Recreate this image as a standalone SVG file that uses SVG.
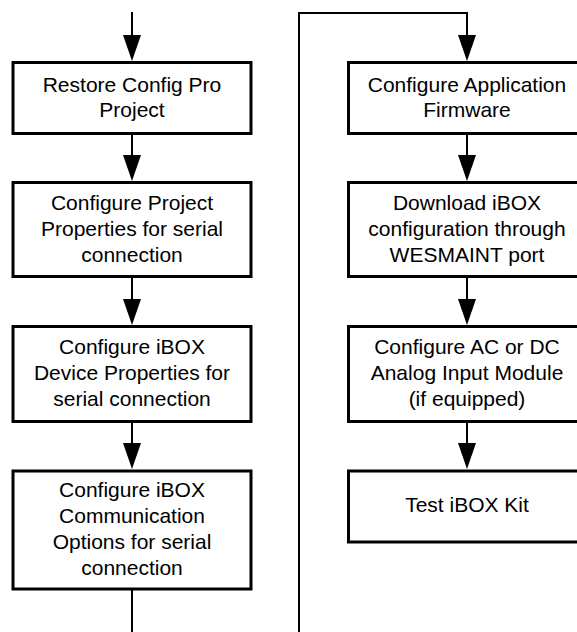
<svg xmlns="http://www.w3.org/2000/svg" width="577" height="632" viewBox="0 0 577 632">
<style>
.box{fill:#fff;stroke:#000;stroke-width:3}
.ln{fill:none;stroke:#000;stroke-width:2}
.hd{fill:#000}
text{font-family:"Liberation Sans",Arial,sans-serif;font-size:21px;fill:#000;text-anchor:middle}
</style>
<rect width="577" height="632" fill="#fff"/>
<g id="connectors">
<line class="ln" x1="132" y1="12" x2="132" y2="40"/>
<polygon class="hd" points="123,35 141,35 132,61"/>
<line class="ln" x1="132" y1="134" x2="132" y2="160"/>
<polygon class="hd" points="123,155 141,155 132,181"/>
<line class="ln" x1="132" y1="278" x2="132" y2="304"/>
<polygon class="hd" points="123,299 141,299 132,325"/>
<line class="ln" x1="132" y1="422" x2="132" y2="448"/>
<polygon class="hd" points="123,443 141,443 132,469"/>
<line class="ln" x1="132" y1="586" x2="132" y2="632"/>
<polyline class="ln" points="299,632 299,13 467,13 467,40"/>
<polygon class="hd" points="458,35 476,35 467,61"/>
<line class="ln" x1="467" y1="134" x2="467" y2="160"/>
<polygon class="hd" points="458,155 476,155 467,181"/>
<line class="ln" x1="467" y1="278" x2="467" y2="304"/>
<polygon class="hd" points="458,299 476,299 467,325"/>
<line class="ln" x1="467" y1="422" x2="467" y2="448"/>
<polygon class="hd" points="458,443 476,443 467,469"/>
</g>
<g id="n1"><rect class="box" x="13" y="62.5" width="238" height="71"/>
<text x="132" y="92">Restore Config Pro</text><text x="132" y="117">Project</text></g>
<g id="n2"><rect class="box" x="13" y="182.5" width="238" height="94"/>
<text x="132" y="210">Configure Project</text><text x="132" y="236">Properties for serial</text><text x="132" y="262">connection</text></g>
<g id="n3"><rect class="box" x="13" y="326.5" width="238" height="95"/>
<text x="132" y="354">Configure iBOX</text><text x="132" y="380">Device Properties for</text><text x="132" y="406">serial connection</text></g>
<g id="n4"><rect class="box" x="13" y="471" width="238" height="118"/>
<text x="132" y="497">Configure iBOX</text><text x="132" y="523">Communication</text><text x="132" y="549">Options for serial</text><text x="132" y="575">connection</text></g>
<g id="n5"><rect class="box" x="348.5" y="62.5" width="237" height="71"/>
<text x="467" y="92">Configure Application</text><text x="467" y="117">Firmware</text></g>
<g id="n6"><rect class="box" x="348.5" y="182.5" width="237" height="94"/>
<text x="467" y="210">Download iBOX</text><text x="467" y="236">configuration through</text><text x="467" y="262">WESMAINT port</text></g>
<g id="n7"><rect class="box" x="348.5" y="326.5" width="237" height="95"/>
<text x="467" y="354">Configure AC or DC</text><text x="467" y="380">Analog Input Module</text><text x="467" y="406">(if equipped)</text></g>
<g id="n8"><rect class="box" x="348.5" y="471" width="237" height="71"/>
<text x="467" y="512">Test iBOX Kit</text></g>
</svg>
